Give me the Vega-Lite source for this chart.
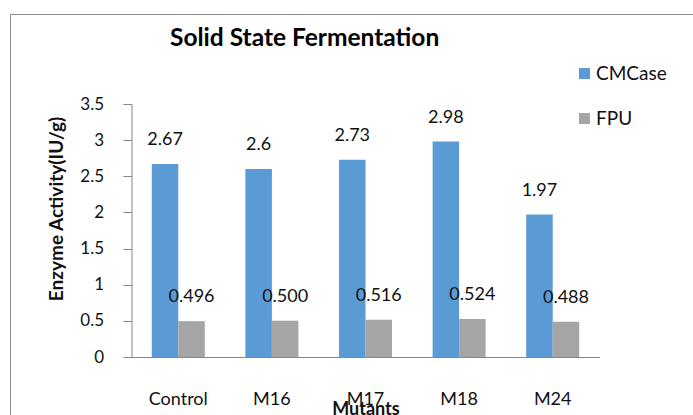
{
  "$schema": "https://vega.github.io/schema/vega-lite/v6.json",
  "autosize": {"type": "none"},
  "width": 700,
  "height": 420,
  "padding": {"left": 10, "top": 14, "right": 0, "bottom": 0},
  "background": "white",
  "config": {
    "view": {"stroke": "#8c8c8c", "strokeWidth": 1},
    "font": "Lato"
  },
  "title": {
    "text": "Solid State Fermentation",
    "font": "Lato",
    "fontSize": 24.5,
    "fontWeight": "bold",
    "color": "#000000",
    "anchor": "start",
    "frame": "group",
    "baseline": "middle",
    "offset": 0,
    "dx": 160,
    "dy": 49
  },
  "data": {
    "values": [
      {"Mutant": "Control", "Series": "CMCase", "Activity": 2.67, "Label": "2.67"},
      {"Mutant": "M16", "Series": "CMCase", "Activity": 2.6, "Label": "2.6"},
      {"Mutant": "M17", "Series": "CMCase", "Activity": 2.73, "Label": "2.73"},
      {"Mutant": "M18", "Series": "CMCase", "Activity": 2.98, "Label": "2.98"},
      {"Mutant": "M24", "Series": "CMCase", "Activity": 1.97, "Label": "1.97"},
      {"Mutant": "Control", "Series": "FPU", "Activity": 0.496, "Label": "0.496"},
      {"Mutant": "M16", "Series": "FPU", "Activity": 0.5, "Label": "0.500"},
      {"Mutant": "M17", "Series": "FPU", "Activity": 0.516, "Label": "0.516"},
      {"Mutant": "M18", "Series": "FPU", "Activity": 0.524, "Label": "0.524"},
      {"Mutant": "M24", "Series": "FPU", "Activity": 0.488, "Label": "0.488"}
    ]
  },
  "encoding": {
    "x": {
      "field": "Mutant",
      "type": "nominal",
      "sort": ["Control", "M16", "M17", "M18", "M24"],
      "scale": {"range": [121.5, 589.5], "paddingInner": 0.434, "paddingOuter": 0.217},
      "axis": {
        "orient": "bottom",
        "offset": -77,
        "title": "Mutants",
        "titleFont": "Lato",
        "titleFontSize": 18,
        "titleFontWeight": "bold",
        "titleColor": "#111111",
        "titleY": 57,
        "titleBaseline": "alphabetic",
        "labelAngle": 0,
        "labelFont": "Lato",
        "labelFontSize": 18,
        "labelColor": "#111111",
        "labelPadding": 33,
        "ticks": false,
        "domainColor": "#868686",
        "domainWidth": 1,
        "grid": false
      }
    },
    "xOffset": {"field": "Series", "type": "nominal", "sort": ["CMCase", "FPU"]},
    "y": {
      "field": "Activity",
      "type": "quantitative",
      "scale": {"domain": [0, 3.5], "range": [343, 90], "nice": false, "zero": true},
      "axis": {
        "orient": "left",
        "offset": -121.5,
        "values": [0, 0.5, 1, 1.5, 2, 2.5, 3, 3.5],
        "format": "~g",
        "title": "Enzyme Activity(IU/g)",
        "titleFont": "Lato",
        "titleFontSize": 19,
        "titleFontWeight": "bold",
        "titleColor": "#111111",
        "titleAngle": 270,
        "titleX": -75.5,
        "titleY": 194.5,
        "titleAlign": "center",
        "titleBaseline": "middle",
        "labelFont": "Lato",
        "labelFontSize": 17,
        "labelColor": "#111111",
        "labelPadding": 19.5,
        "tickSize": 8.5,
        "tickColor": "#868686",
        "domainColor": "#868686",
        "grid": false
      }
    }
  },
  "layer": [
    {
      "mark": {"type": "bar"},
      "encoding": {
        "color": {
          "field": "Series",
          "type": "nominal",
          "scale": {"domain": ["CMCase", "FPU"], "range": ["#5B9BD5", "#A5A5A5"]},
          "legend": {
            "orient": "none",
            "legendX": 565,
            "legendY": 50,
            "title": null,
            "symbolType": "square",
            "symbolSize": 121,
            "symbolStrokeWidth": 0,
            "labelFont": "Lato",
            "labelFontSize": 19,
            "labelColor": "#111111",
            "labelOffset": 2,
            "rowPadding": 25,
            "padding": 0
          }
        }
      }
    },
    {
      "mark": {"type": "text", "dy": -24, "baseline": "middle", "align": "center", "font": "Lato", "fontSize": 18, "color": "#111111"},
      "encoding": {"text": {"field": "Label", "type": "nominal"}}
    }
  ]
}
